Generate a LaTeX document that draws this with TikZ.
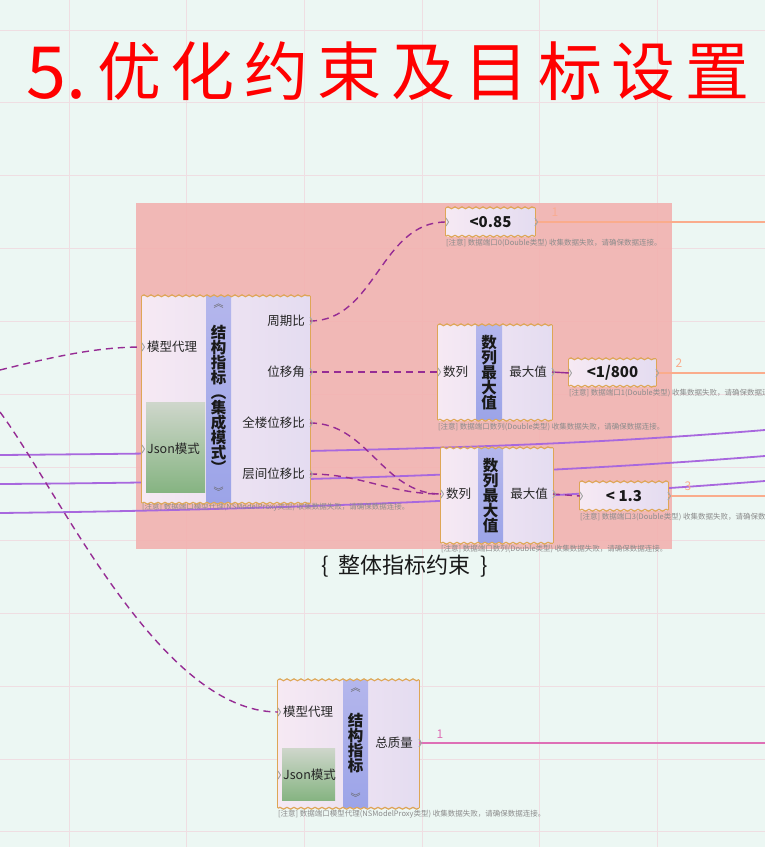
\documentclass[tikz,border=0pt]{standalone}
\usepackage{fontspec}
\setmainfont{Noto Sans CJK SC}
\usetikzlibrary{decorations.pathmorphing}

\definecolor{canvasbg}{RGB}{236,247,243}
\definecolor{gridpink}{RGB}{239,222,226}
\definecolor{panelred}{RGB}{243,174,172}
\definecolor{boxedge}{RGB}{222,166,86}
\definecolor{boxleft}{RGB}{246,233,243}
\definecolor{boxright}{RGB}{228,220,241}
\definecolor{bandtop}{RGB}{180,182,236}
\definecolor{bandbot}{RGB}{156,164,232}
\definecolor{jsongreen}{RGB}{134,180,130}
\definecolor{wirepurple}{RGB}{150,44,148}
\definecolor{wireviolet}{RGB}{168,104,222}
\definecolor{wireorange}{RGB}{250,172,140}
\definecolor{wirepink}{RGB}{222,112,182}
\definecolor{noticegray}{RGB}{140,140,140}
\definecolor{titlered}{RGB}{255,0,0}

\tikzset{
  gbox/.style={inner sep=0pt, left color=boxleft, right color=boxright},
  band/.style={inner sep=0pt, top color=bandtop, bottom color=bandbot},
  waveedge/.style={draw=boxedge, line width=1.2pt, decorate,
    decoration={snake, amplitude=0.9pt, segment length=7pt}},
  sideedge/.style={draw=boxedge, line width=1.2pt},
  portlbl/.style={font=\fontsize{12.5}{12.5}\selectfont, text=black!85, inner sep=0pt},
  vtext/.style={font=\bfseries\fontsize{15.5}{15}\selectfont, align=center, inner sep=0pt, text=black!90},
  valtext/.style={font=\bfseries\fontsize{15}{15}\selectfont, text=black!90, inner sep=0pt},
  notice/.style={font=\fontsize{7.5}{7.5}\selectfont, text=noticegray, anchor=west, inner sep=0pt},
  chev/.style={font=\fontsize{10}{10}\selectfont, text=black!60, inner sep=0pt},
  dashwire/.style={draw=wirepurple, line width=1.4pt, dash pattern=on 7pt off 5pt},
  wire/.style={draw=wireviolet, line width=1.8pt},
  outwire/.style={draw=wireorange, line width=2.8pt},
  wirenum/.style={font=\fontsize{12}{12}\selectfont, inner sep=0pt},
  portmark/.style={draw=black!35, line width=1pt, line join=round},
  gridline/.style={draw=gridpink, line width=0.9pt}
}

\begin{document}
\begin{tikzpicture}[x=1pt,y=-1pt]

  % Canvas and grid
  \clip (0,0) rectangle (765,847);
  \fill[canvasbg] (0,0) rectangle (765,847);
  \foreach \gx in {0,...,5}
    \draw[gridline] (69+117.7*\gx,0) -- (69+117.7*\gx,847);
  \foreach \gy in {0,...,11}
    \draw[gridline] (0,30+72.9*\gy) -- (765,30+72.9*\gy);

  % Title
  \node[font=\fontsize{72}{72}\selectfont, text=titlered, anchor=base west, inner sep=0pt] (title) at (26,98) {5.};
  \foreach \c [count=\i from 0] in {优,化,约,束,及,目,标,设,置}
    \node[font=\fontsize{64}{64}\selectfont, text=titlered, anchor=base, inner sep=0pt] (title\i) at (129+73.5*\i,95) {\c};

  % Group panel
  \fill[panelred, opacity=0.85] (136,203) rectangle (672,549);
  \node[font=\fontsize{22}{22}\selectfont, text=black!90] (grouplbl) at (405,566)
    {\{\hspace{10pt}整体指标约束\hspace{10pt}\}};

  % Free wire ends
  \coordinate (wA-s) at (0,455);   \coordinate (wA-e) at (765,430);
  \coordinate (wB-s) at (0,484);   \coordinate (wB-e) at (765,456);
  \coordinate (wC-s) at (0,513);   \coordinate (wC-e) at (765,481);
  \coordinate (lw1) at (0,370);    \coordinate (lw2) at (0,412);
  \coordinate (ow1) at (765,222);  \coordinate (ow2) at (765,373);
  \coordinate (ow3) at (765,496);  \coordinate (pw1) at (765,743);

  % Wires passing behind the components
  \draw[wire] (wA-s) .. controls (350,452) and (560,447) .. (wA-e);
  \draw[wire] (wB-s) .. controls (300,482) and (550,473) .. (wB-e);
  \draw[wire] (wC-s) .. controls (350,509) and (600,494) .. (wC-e);

  % Component: 结构指标(集成模式)
  \node[gbox, minimum width=168pt, minimum height=207pt] (zb) at (226,399.5) {};
  \fill[top color=jsongreen!35!boxleft, bottom color=jsongreen] (146,402) rectangle (205,492);
  \node[band, minimum width=25pt, minimum height=206pt] (zb-band) at (218.5,399.5) {};
  \node[vtext] (zb-title) at (218.5,399) {结\\构\\指\\标\\︵\\集\\成\\模\\式\\︶};
  \node[chev] (zb-up) at (218.5,306) {︽};
  \node[chev] (zb-dn) at (218.5,491) {︾};
  \node[portlbl, anchor=west] (zb-l1) at (147,347) {模型代理};
  \node[portlbl, anchor=west] (zb-l2) at (147,449) {Json模式};
  \node[portlbl, anchor=east] (zb-r1) at (305,321) {周期比};
  \node[portlbl, anchor=east] (zb-r2) at (305,372) {位移角};
  \node[portlbl, anchor=east] (zb-r3) at (305,423) {全楼位移比};
  \node[portlbl, anchor=east] (zb-r4) at (305,474) {层间位移比};
  \coordinate (zb-in1) at (142,347);  \coordinate (zb-in2) at (142,449);
  \coordinate (zb-o1) at (310,321);   \coordinate (zb-o2) at (310,372);
  \coordinate (zb-o3) at (310,423);   \coordinate (zb-o4) at (310,474);
  \node[notice] (zb-note) at (142,507) {[注意] 数据端口模型代理(NSModelProxy类型) 收集数据失败，请确保数据连接。};

  % Component: 数列最大值 (1)
  \node[gbox, minimum width=114pt, minimum height=95pt] (sl1) at (495,372.5) {};
  \node[band, minimum width=26pt, minimum height=94pt] (sl1-band) at (489,372.5) {};
  \node[vtext] (sl1-title) at (489,373) {数\\列\\最\\大\\值};
  \node[portlbl, anchor=west] (sl1-l) at (443,372) {数列};
  \node[portlbl, anchor=east] (sl1-r) at (547,372) {最大值};
  \coordinate (sl1-in) at (438,372);  \coordinate (sl1-out) at (552,372);
  \node[notice] (sl1-note) at (438,427) {[注意] 数据端口数列(Double类型) 收集数据失败，请确保数据连接。};

  % Component: 数列最大值 (2)
  \node[gbox, minimum width=112pt, minimum height=95pt] (sl2) at (497,495.5) {};
  \node[band, minimum width=25pt, minimum height=94pt] (sl2-band) at (490.5,495.5) {};
  \node[vtext] (sl2-title) at (490.5,496) {数\\列\\最\\大\\值};
  \node[portlbl, anchor=west] (sl2-l) at (446,494) {数列};
  \node[portlbl, anchor=east] (sl2-r) at (548,494) {最大值};
  \coordinate (sl2-in) at (441,494);  \coordinate (sl2-out) at (553,494);
  \node[notice] (sl2-note) at (441,549) {[注意] 数据端口数列(Double类型) 收集数据失败，请确保数据连接。};

  % Constraint values
  \node[gbox, minimum width=89pt, minimum height=28pt] (c085) at (490.5,222) {};
  \node[valtext] (c085-v) at (490.5,222) {<0.85};
  \coordinate (c085-in) at (446,222);  \coordinate (c085-out) at (535,222);
  \node[notice] (c085-note) at (446,243) {[注意] 数据端口0(Double类型) 收集数据失败，请确保数据连接。};

  \node[gbox, minimum width=87pt, minimum height=27pt] (c1800) at (612.5,372.5) {};
  \node[valtext] (c1800-v) at (612.5,372.5) {<1/800};
  \coordinate (c1800-in) at (569,373);  \coordinate (c1800-out) at (656,373);
  \node[notice] (c1800-note) at (569,393) {[注意] 数据端口1(Double类型) 收集数据失败，请确保数据连接。};

  \node[gbox, minimum width=88pt, minimum height=28pt] (c13) at (624,496) {};
  \node[valtext] (c13-v) at (624,496) {<\ 1.3};
  \coordinate (c13-in) at (580,496);  \coordinate (c13-out) at (668,496);
  \node[notice] (c13-note) at (580,517) {[注意] 数据端口3(Double类型) 收集数据失败，请确保数据连接。};

  % Component: 结构指标
  \node[gbox, minimum width=141pt, minimum height=128pt] (zb2) at (348.5,744) {};
  \fill[top color=jsongreen!35!boxleft, bottom color=jsongreen] (282,748) rectangle (335,800);
  \node[band, minimum width=25pt, minimum height=127pt] (zb2-band) at (355.5,744) {};
  \node[vtext] (zb2-title) at (355.5,743.5) {结\\构\\指\\标};
  \node[chev] (zb2-up) at (355.5,690) {︽};
  \node[chev] (zb2-dn) at (355.5,797) {︾};
  \node[portlbl, anchor=west] (zb2-l1) at (283,712) {模型代理};
  \node[portlbl, anchor=west] (zb2-l2) at (283,775) {Json模式};
  \node[portlbl, anchor=east] (zb2-r1) at (413,743) {总质量};
  \coordinate (zb2-in1) at (278,712);  \coordinate (zb2-in2) at (278,775);
  \coordinate (zb2-out) at (419,743);
  \node[notice] (zb2-note) at (278,814) {[注意] 数据端口模型代理(NSModelProxy类型) 收集数据失败，请确保数据连接。};

  % Component borders
  \foreach \b in {zb,sl1,sl2,c085,c1800,c13,zb2} {
    \draw[waveedge] (\b.north west) -- (\b.north east);
    \draw[waveedge] (\b.south west) -- (\b.south east);
    \draw[sideedge] (\b.north west) -- (\b.south west);
    \draw[sideedge] (\b.north east) -- (\b.south east);
  }

  % Connections
  \draw[dashwire] (lw1) .. controls (60,355) and (100,347) .. (zb-in1);
  \draw[dashwire] (lw2) .. controls (60,493) and (160,712) .. (zb2-in1);
  \draw[dashwire] (zb-o1) to[out=0,in=180] (c085-in);
  \draw[dashwire] (zb-o2) -- (sl1-in);
  \draw[dashwire] (zb-o3) to[out=0,in=180] (sl2-in);
  \draw[dashwire] (zb-o4) to[out=0,in=180] (sl2-in);
  \draw[draw=wirepurple, line width=1.4pt] (sl1-out) -- (c1800-in);
  \draw[dashwire] (sl2-out) -- (c13-in);

  % Outputs
  \draw[outwire] (c085-out) -- (ow1);
  \draw[outwire] (c1800-out) -- (ow2);
  \draw[outwire] (c13-out) -- (ow3);
  \draw[draw=wirepink, line width=1.8pt] (zb2-out) -- (pw1);
  \node[wirenum, text=wireorange!80!panelred] (n1) at (555,212) {1};
  \node[wirenum, text=wireorange] (n2) at (679,363) {2};
  \node[wirenum, text=wireorange] (n3) at (688,486) {3};
  \node[wirenum, text=wirepink] (n4) at (440,734) {1};

  % Port marks
  \foreach \p in {zb-in1,zb-in2,zb-o1,zb-o2,zb-o3,zb-o4,sl1-in,sl1-out,sl2-in,sl2-out,
                  c085-in,c085-out,c1800-in,c1800-out,c13-in,c13-out,zb2-in1,zb2-in2,zb2-out}
    \draw[portmark] ([yshift=4pt]\p) -- ([xshift=2.5pt]\p) -- ([yshift=-4pt]\p);

\end{tikzpicture}
\end{document}
